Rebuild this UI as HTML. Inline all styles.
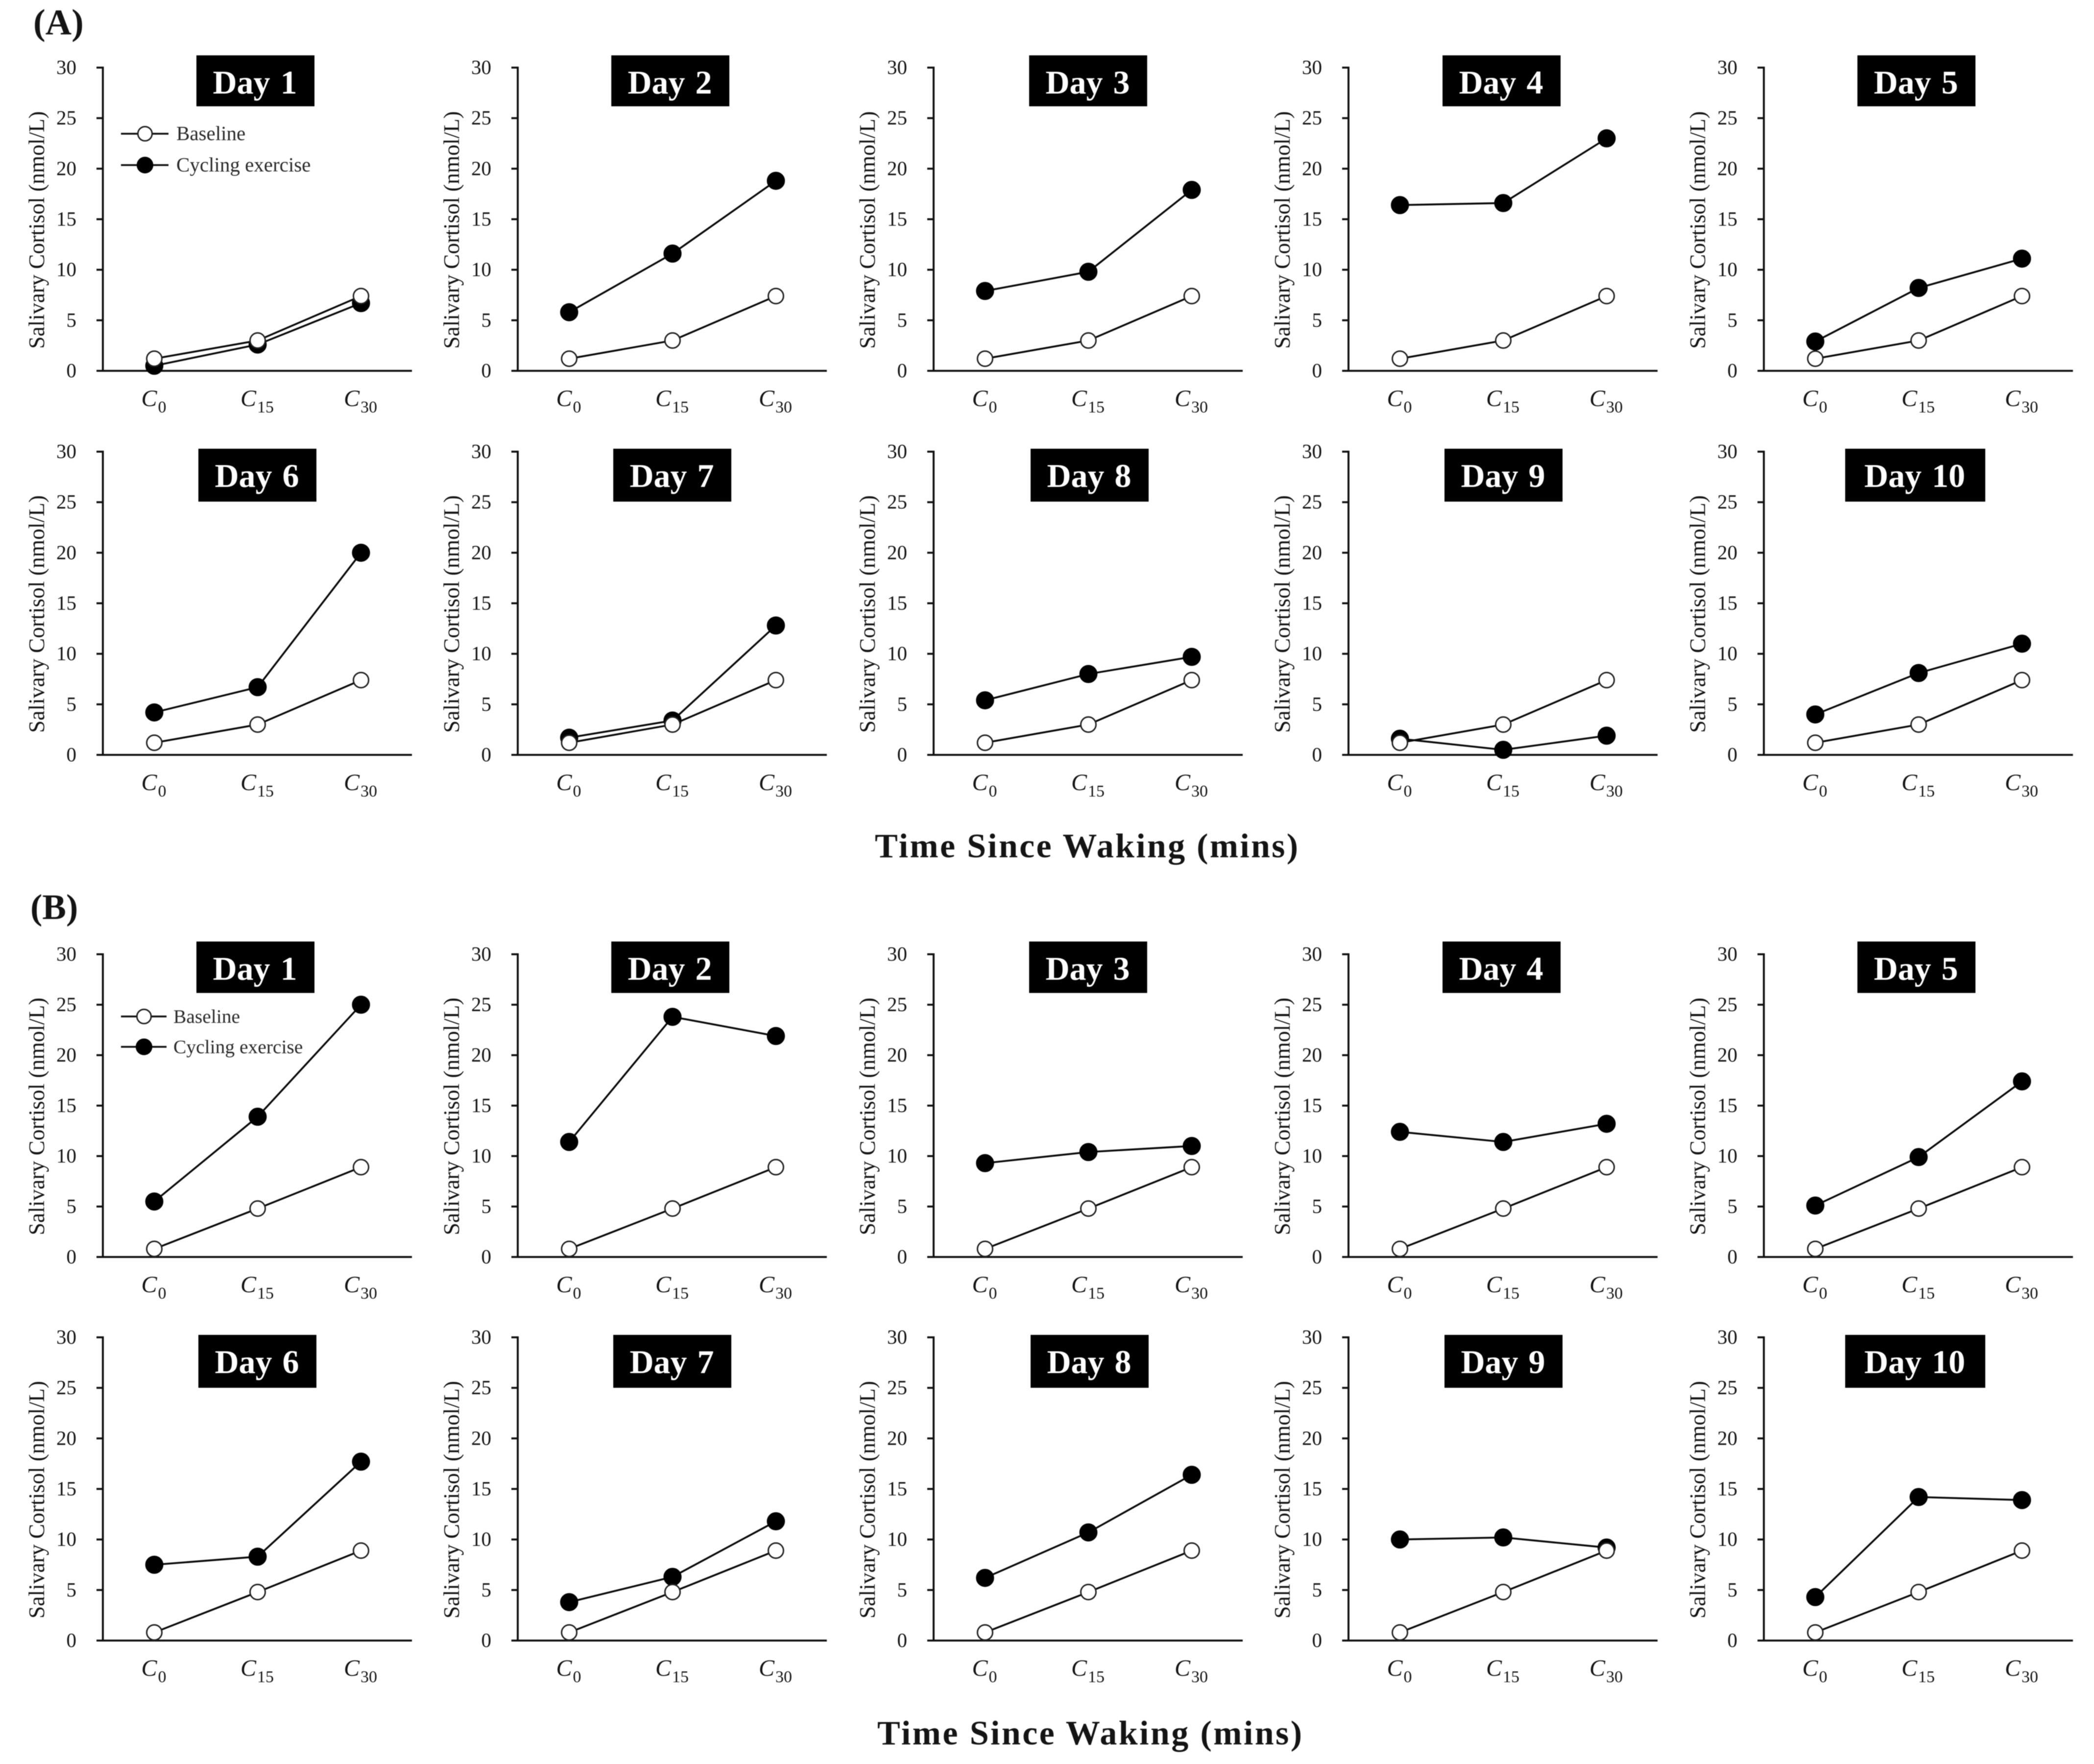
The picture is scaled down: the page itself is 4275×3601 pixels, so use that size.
<!DOCTYPE html>
<html lang="en">
<head>
<meta charset="utf-8">
<title>Salivary Cortisol by Day</title>
<style>
html,body{margin:0;padding:0;background:#fff;width:4275px;height:3601px;overflow:hidden}
svg{display:block;filter:blur(0.9px)}
text{font-family:"Liberation Serif",serif;fill:#141414}
</style>
</head>
<body>
<svg id="chart" xmlns="http://www.w3.org/2000/svg" width="4275" height="3601" viewBox="0 0 4275 3601">
<rect x="0" y="0" width="4275" height="3601" fill="#fff"/>
</svg>
<script>
// ---- chart data ----
const dayLabels = ["Day 1","Day 2","Day 3","Day 4","Day 5","Day 6","Day 7","Day 8","Day 9","Day 10"];
const yTickValues = [0,5,10,15,20,25,30];
const xSubscripts = ["0","15","30"];
const baselineA = [1.2,3.0,7.4];
const baselineB = [0.8,4.8,8.9];
const exerciseA = [
  [0.5,2.6,6.7],
  [5.8,11.6,18.8],
  [7.9,9.8,17.9],
  [16.4,16.6,23.0],
  [2.9,8.2,11.1],
  [4.2,6.7,20.0],
  [1.7,3.4,12.8],
  [5.4,8.0,9.7],
  [1.6,0.5,1.9],
  [4.0,8.1,11.0]
];
const exerciseB = [
  [5.5,13.9,25.0],
  [11.4,23.8,21.9],
  [9.3,10.4,11.0],
  [12.4,11.4,13.2],
  [5.1,9.9,17.4],
  [7.5,8.3,17.7],
  [3.8,6.3,11.8],
  [6.2,10.7,16.4],
  [10.0,10.2,9.2],
  [4.3,14.2,13.9]
];

// ---- layout ----
const svg = document.getElementById('chart');
const NS = 'http://www.w3.org/2000/svg';
const axisLeft = [210,1057,1906,2753,3601];
const rowFrames = [
  {top:138,bottom:757,boxTop:113,boxH:104},
  {top:922,bottom:1541,boxTop:916,boxH:108},
  {top:1948,bottom:2566,boxTop:1922,boxH:105},
  {top:2730,bottom:3349,boxTop:2725,boxH:108}
];
const boxLeftUpper = [401,1248,2101,2945,3792];
const boxLeftLower = [405,1252,2104,2949,3767];
const plotX = [105,316,527];
const Y_MAX = 30;
const xScale = (i, col) => axisLeft[col] + plotX[i];
const yScale = (v, row) => {
  const f = rowFrames[row];
  return f.bottom - (v / Y_MAX) * (f.bottom - f.top);
};
function make(tag, attrs, parent, txt){
  const n = document.createElementNS(NS, tag);
  for (const k in attrs) n.setAttribute(k, attrs[k]);
  if (txt !== undefined) n.textContent = txt;
  (parent || svg).appendChild(n);
  return n;
}
function drawSeries(values, row, col, isBaseline, g){
  const pts = values.map((v, i) => xScale(i, col) + ',' + yScale(v, row)).join(' ');
  const line = make('polyline', {points: pts, fill: 'none', stroke: '#0a0a0a', 'stroke-width': 3.8}, g);
  
  
  values.forEach((v, i) => {
    const c = make('circle', {
      cx: xScale(i, col), cy: yScale(v, row),
      r: isBaseline ? 15.5 : 18,
      fill: isBaseline ? '#fff' : '#000',
      stroke: isBaseline ? '#222' : '#000',
      'stroke-width': isBaseline ? 3 : 1
    }, g);
    
    
  });
}
function drawPanel(dayIndex, row, baseline, exercise){
  const col = dayIndex % 5;
  const lower = dayIndex >= 5;
  const frame = rowFrames[row];
  const x0 = axisLeft[col];
  const g = make('g', {});
  
  

  // axes
  const yAxis = make('line', {x1:x0, x2:x0, y1:frame.top-2, y2:frame.bottom+2, stroke:'#111', 'stroke-width':4}, g);
  
  
  const xAxis = make('line', {x1:x0-13, x2:x0+631, y1:frame.bottom, y2:frame.bottom, stroke:'#111', 'stroke-width':4}, g);
  
  

  yTickValues.forEach(t => {
    const y = yScale(t, row);
    const tick = make('line', {x1:x0-13, x2:x0, y1:y, y2:y, stroke:'#111', 'stroke-width':4}, g);
    
    
    const lab = make('text', {x:x0-54, y:y+13, 'text-anchor':'end', 'font-size':41}, g, String(t));
    
    
  });

  // y axis title
  const cy = (frame.top + frame.bottom) / 2 + 22;
  const yTitle = make('text', {
    x:0, y:0, 'text-anchor':'middle', 'font-size':45,
    textLength:485, lengthAdjust:'spacingAndGlyphs',
    transform:'translate(' + (x0-120) + ',' + cy + ') rotate(-90)'
  }, g, 'Salivary Cortisol (nmol/L)');
  
  

  // x tick labels
  xSubscripts.forEach((s, i) => {
    const t = make('text', {x:xScale(i, col)-1, y:frame.bottom+72, 'text-anchor':'middle', 'font-size':48, 'font-style':'italic'}, g);
    
    
    make('tspan', {}, t, 'C');
    make('tspan', {dy:13, dx:2, 'font-size':34, 'font-style':'normal'}, t, s);
  });

  // title box
  const bx = (lower ? boxLeftLower : boxLeftUpper)[col];
  const bw = dayIndex === 9 ? 286 : 241;
  const box = make('rect', {x:bx, y:frame.boxTop, width:bw, height:frame.boxH, fill:'#000'}, g);
  
  
  const title = make('text', {x:bx+bw/2-1, y:frame.boxTop+78, 'text-anchor':'middle', 'font-size':68, 'font-weight':'bold', 'word-spacing':'4px', style:'fill:#fff'}, g, dayLabels[dayIndex]);
  
  

  // series: exercise beneath, baseline on top
  drawSeries(exercise, row, col, false, g);
  drawSeries(baseline, row, col, true, g);
}
function drawLegend(lineX1, lineX2, markerX, textX, y1, y2, text1, text2, fs){
  const entries = [[y1, text1, true, 'baseline'], [y2, text2, false, 'cycling-exercise']];
  entries.forEach(en => {
    const g = make('g', {});
    
    
    const l = make('line', {x1:lineX1, x2:lineX2, y1:en[0], y2:en[0], stroke:'#111', 'stroke-width':3.8}, g);
    
    
    const c = make('circle', {cx:markerX, cy:en[0], r:en[2] ? 14.5 : 15.5, fill:en[2] ? '#fff' : '#000', stroke:en[2] ? '#222' : '#000', 'stroke-width':3}, g);
    
    
    const t = make('text', {x:textX, y:en[0]+13, 'font-size':fs, style:'fill:#2a2a2a'}, g, en[1]);
    
    
  });
}

// ---- draw figure A ----
for (let d = 0; d < 10; d++) drawPanel(d, d < 5 ? 0 : 1, baselineA, exerciseA[d]);
// ---- draw figure B ----
for (let d = 0; d < 10; d++) drawPanel(d, d < 5 ? 2 : 3, baselineB, exerciseB[d]);

drawLegend(247, 344, 296, 360, 273, 337, 'Baseline', 'Cycling exercise', 41);
drawLegend(247, 340, 294, 354, 2075, 2137, 'Baseline', 'Cycling exercise', 39.5);

const labelA = make('text', {x:68, y:70, 'font-size':74, 'font-weight':'bold'}, svg, '(A)');


const labelB = make('text', {x:62, y:1876, 'font-size':73, 'font-weight':'bold'}, svg, '(B)');


const xTitleA = make('text', {x:1786, y:1750, 'font-size':70, 'font-weight':'bold', textLength:864, lengthAdjust:'spacing'}, svg, 'Time Since Waking (mins)');


const xTitleB = make('text', {x:1791, y:3561, 'font-size':70, 'font-weight':'bold', textLength:867, lengthAdjust:'spacing'}, svg, 'Time Since Waking (mins)');


</script>
</body>
</html>
